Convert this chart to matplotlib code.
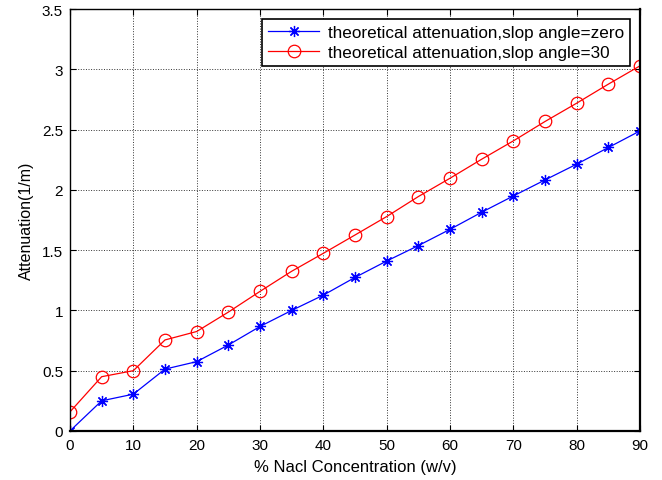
import matplotlib
matplotlib.use("Agg")
import matplotlib.pyplot as plt

# NaCl concentration (% w/v)
concentration = [0, 5, 10, 15, 20, 25, 30, 35, 40, 45, 50, 55, 60, 65, 70, 75, 80, 85, 90]

# Theoretical attenuation (1/m)
atten_zero = [0.0, 0.25, 0.305, 0.513, 0.575, 0.713, 0.867, 1.0, 1.127, 1.274, 1.41,
              1.538, 1.673, 1.815, 1.95, 2.083, 2.214, 2.352, 2.49]
atten_30 = [0.158, 0.45, 0.5, 0.755, 0.825, 0.986, 1.158, 1.325, 1.474, 1.626, 1.779,
            1.945, 2.097, 2.255, 2.407, 2.568, 2.72, 2.878, 3.03]

x_ticks = [0, 10, 20, 30, 40, 50, 60, 70, 80, 90]
y_ticks = [0, 0.5, 1, 1.5, 2, 2.5, 3, 3.5]
y_labels = ["0", "0.5", "1", "1.5", "2", "2.5", "3", "3.5"]

plt.rcParams['font.family'] = ['Liberation Sans', 'DejaVu Sans']

fig = plt.figure(figsize=(6.62, 4.81), dpi=100)
ax = fig.add_axes([0.1057, 0.102, 0.8613, 0.877])

ax.plot(concentration, atten_zero, color='blue', linewidth=0.9,
        marker=(8, 2, 0), markersize=8, markeredgewidth=0.9,
        label='theoretical attenuation,slop angle=zero')
ax.plot(concentration, atten_30, color='red', linewidth=0.9,
        marker='o', markersize=9, markerfacecolor='none', markeredgewidth=0.9,
        label='theoretical attenuation,slop angle=30')

ax.set_xlim(0, 90)
ax.set_ylim(0, 3.5)
ax.set_xticks(x_ticks)
ax.set_yticks(y_ticks)
ax.set_yticklabels(y_labels)

ax.grid(True, linestyle=':', color='#333333', linewidth=0.7)
ax.tick_params(direction='in', top=True, right=True, labelsize=11, length=4, pad=5)
for s in ax.spines.values():
    s.set_linewidth(1.0)
ax.spines['bottom'].set_linewidth(1.6)
ax.spines['right'].set_linewidth(1.6)

ax.set_xlabel('% Nacl Concentration (w/v)', fontsize=12, labelpad=5)
ax.set_ylabel('Attenuation(1/m)', fontsize=11.5, labelpad=6)

leg = ax.legend(loc='upper right', fontsize=12.3, fancybox=False, framealpha=1,
                edgecolor='black', borderaxespad=0.6, handlelength=3.0,
                borderpad=0.35, labelspacing=0.3, handletextpad=0.5)
leg.get_frame().set_linewidth(1.2)

fig.savefig('out.png', dpi=100)
